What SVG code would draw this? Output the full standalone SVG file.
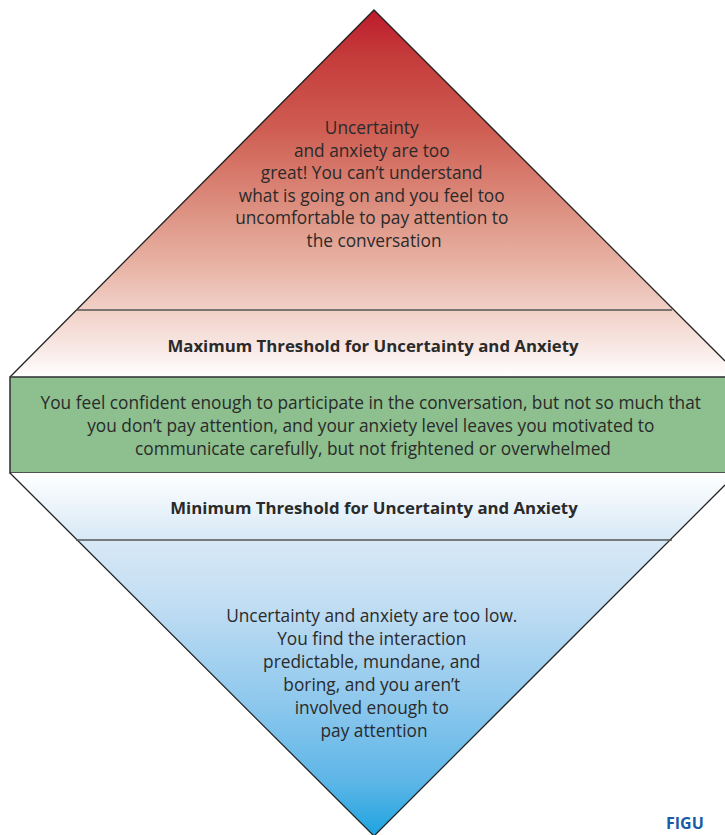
<svg xmlns="http://www.w3.org/2000/svg" width="725" height="835" viewBox="0 0 725 835">
  <defs>
    <linearGradient id="hot" gradientUnits="userSpaceOnUse" x1="0" y1="10" x2="0" y2="377">
      <stop offset="0" stop-color="#be1b2c"/>
      <stop offset="0.12" stop-color="#c43a3a"/>
      <stop offset="0.33" stop-color="#cf5e53"/>
      <stop offset="0.55" stop-color="#dd9282"/>
      <stop offset="0.7" stop-color="#e8b4a6"/>
      <stop offset="0.82" stop-color="#f1d1c8"/>
      <stop offset="0.92" stop-color="#f8e8e4"/>
      <stop offset="1" stop-color="#ffffff"/>
    </linearGradient>
    <linearGradient id="cold" gradientUnits="userSpaceOnUse" x1="0" y1="473" x2="0" y2="836">
      <stop offset="0" stop-color="#ffffff"/>
      <stop offset="0.18" stop-color="#d8e9f6"/>
      <stop offset="0.35" stop-color="#c3def3"/>
      <stop offset="0.63" stop-color="#8ec8ed"/>
      <stop offset="0.85" stop-color="#5db6e7"/>
      <stop offset="1" stop-color="#1ea3df"/>
    </linearGradient>
    <style>
      .edge { fill: none; stroke: #222; stroke-width: 1.3; }
      .rule { fill: none; stroke: #555; stroke-width: 1.5; }
      .body { font-family: "Open Sans", "Noto Sans", "Liberation Sans", sans-serif; font-size: 17.3px; fill: #2a2a2a; text-anchor: middle; }
      .label { font-family: "Open Sans", "Noto Sans", "Liberation Sans", sans-serif; font-size: 16.8px; font-weight: bold; fill: #2a2a2a; text-anchor: middle; }
    </style>
  </defs>

  <!-- upper half of the diamond: too much uncertainty -->
  <g id="upper">
    <polygon points="374,10 725,361 725,377 10,377" fill="url(#hot)"/>
    <polyline class="edge" points="10,377 374,10 725,361"/>
    <text class="body">
      <tspan x="374" y="134">Uncertainty</tspan>
      <tspan x="374" y="156.5">and anxiety are too</tspan>
      <tspan x="374" y="179">great! You can’t understand</tspan>
      <tspan x="374" y="201.5">what is going on and you feel too</tspan>
      <tspan x="374" y="224">uncomfortable to pay attention to</tspan>
      <tspan x="374" y="246.5">the conversation</tspan>
    </text>
  </g>

  <!-- upper threshold -->
  <g id="max-threshold">
    <line class="rule" x1="76" y1="310" x2="672" y2="310"/>
    <text class="label" x="373" y="352">Maximum Threshold for Uncertainty and Anxiety</text>
  </g>

  <!-- comfort band -->
  <g id="comfort-zone">
    <rect x="10" y="377" width="720" height="96" fill="#8dbf8f" stroke="#3a3a3a" stroke-width="1.6"/>
    <text class="body">
      <tspan x="373" y="409">You feel confident enough to participate in the conversation, but not so much that</tspan>
      <tspan x="373" y="432">you don’t pay attention, and your anxiety level leaves you motivated to</tspan>
      <tspan x="373" y="455">communicate carefully, but not frightened or overwhelmed</tspan>
    </text>
  </g>

  <!-- lower half of the diamond: too little uncertainty -->
  <g id="lower">
    <polygon points="10,473 725,473 725,485 374,836" fill="url(#cold)"/>
    <polyline class="edge" points="10,473 374,836 725,485"/>
    <text class="body">
      <tspan x="374" y="622">Uncertainty and anxiety are too low.</tspan>
      <tspan x="374" y="645">You find the interaction</tspan>
      <tspan x="374" y="668">predictable, mundane, and</tspan>
      <tspan x="374" y="691">boring, and you aren’t</tspan>
      <tspan x="374" y="714">involved enough to</tspan>
      <tspan x="374" y="737">pay attention</tspan>
    </text>
  </g>

  <!-- lower threshold -->
  <g id="min-threshold">
    <line class="rule" x1="76" y1="540" x2="672" y2="540"/>
    <text class="label" x="374" y="514">Minimum Threshold for Uncertainty and Anxiety</text>
  </g>

  <!-- caption at the page corner -->
  <text x="666" y="829" font-family="'Open Sans', 'Liberation Sans', sans-serif" font-size="16" font-weight="bold" fill="#1a5aa6">FIGU</text>
</svg>
